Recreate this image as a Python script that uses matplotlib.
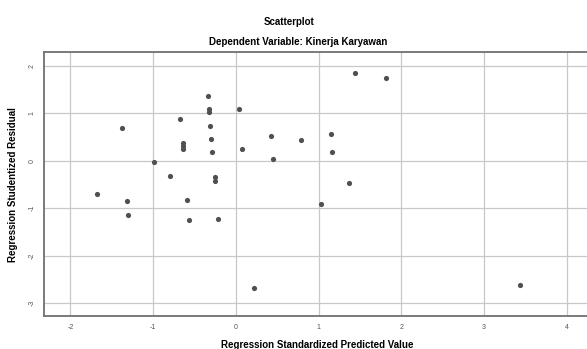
import matplotlib
matplotlib.use("Agg")
import matplotlib.pyplot as plt
import numpy as np

# Regression Standardized Predicted Value vs Studentized Residual
pred = [-1.68, -1.375, -1.318, -1.30, -0.99, -0.80, -0.673, -0.645, -0.645, -0.645,
        -0.596, -0.572, -0.335, -0.32, -0.32, -0.31, -0.30, -0.29, -0.254, -0.254,
        -0.218, 0.04, 0.076, 0.214, 0.423, 0.447, 0.786, 1.028, 1.15, 1.157,
        1.37, 1.443, 1.81, 3.43]
resid = [-0.69, 0.695, -0.855, -1.14, -0.02, -0.32, 0.89, 0.38, 0.31, 0.24,
         -0.83, -1.24, 1.37, 1.09, 1.02, 0.74, 0.46, 0.18, -0.35, -0.42,
         -1.23, 1.10, 0.25, -2.69, 0.53, 0.036, 0.43, -0.905, 0.556, 0.19,
         -0.46, 1.86, 1.75, -2.62]
xticks = [-2, -1, 0, 1, 2, 3, 4]
yticks = [-3, -2, -1, 0, 1, 2]

plt.rcParams['font.family'] = ['Liberation Sans', 'DejaVu Sans']

fig = plt.figure(figsize=(5.87, 3.49), dpi=100)
ax = fig.add_axes([0.075, 0.0946, 0.93, 0.756])

ax.scatter(pred, resid, s=14, color="#505050", zorder=3, linewidths=0)
ax.set_xlim(-2.32, 4.28)
ax.set_ylim(-3.27, 2.29)
ax.set_xticks(xticks)
ax.set_yticks(yticks)
ax.set_xticklabels([str(t) for t in xticks], fontsize=5, color="#555555")
ax.set_yticklabels([str(t) for t in yticks], fontsize=5, color="#555555", rotation=90, va="center")
ax.tick_params(length=0, pad=6)
ax.grid(True, color="#c8c8c8", linewidth=0.9)
ax.set_axisbelow(True)
for s in ["left", "bottom", "top"]:
    ax.spines[s].set_color("#707070")
    ax.spines[s].set_linewidth(1.3)
ax.spines["right"].set_visible(False)

ax.set_xlabel("Regression Standardized Predicted Value", fontsize=7, fontweight="bold", labelpad=6)
ax.set_ylabel("Regression Studentized Residual", fontsize=7, fontweight="bold", labelpad=8)

fig.text(0.493, 0.937, "Scatterplot", ha="center", va="center", fontsize=7, fontweight="bold")
fig.text(0.508, 0.88, "Dependent Variable: Kinerja Karyawan", ha="center", va="center",
         fontsize=7, fontweight="bold")

fig.savefig("out.png", dpi=100)
